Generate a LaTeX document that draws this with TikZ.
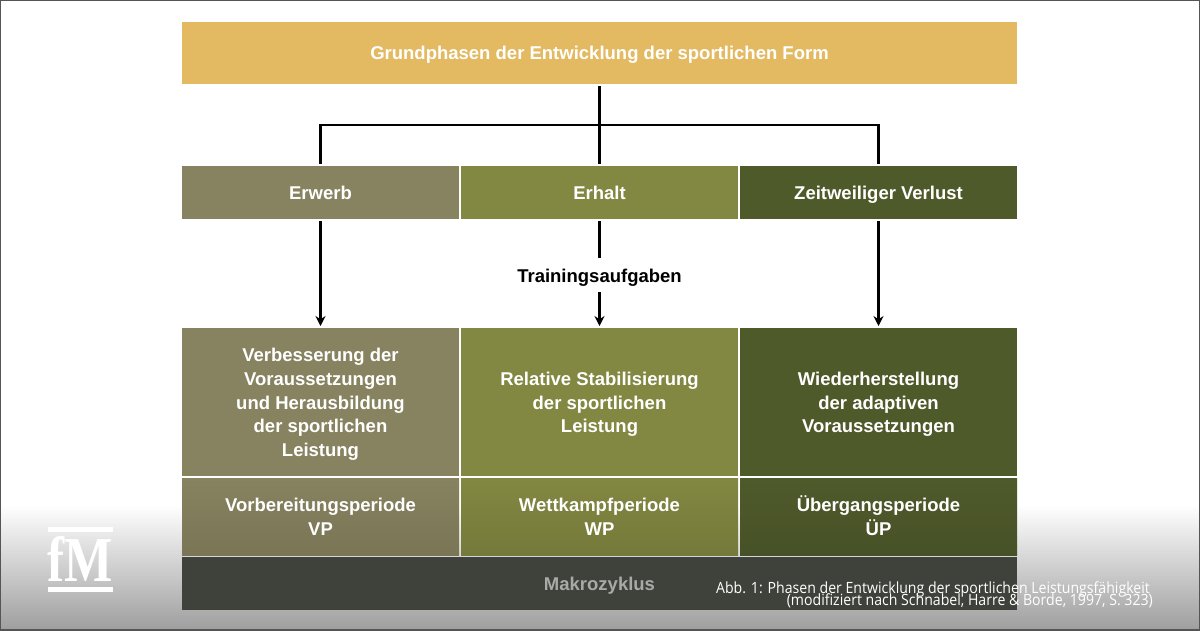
\documentclass[tikz,border=0pt]{standalone}
\usepackage{fontspec}
\setmainfont{Liberation Sans}
\newfontfamily\capfont[FakeStretch=0.91]{Open Sans}
\newfontfamily\logofont{Liberation Serif}
\usepackage{tikz}
\usetikzlibrary{arrows.meta}
\definecolor{headcol}{HTML}{E3B962}
\definecolor{erwcol}{HTML}{87825F}
\definecolor{ercol}{HTML}{828741}
\definecolor{vercol}{HTML}{4F5A2B}
\definecolor{makcol}{HTML}{3F423A}
\definecolor{bordcol}{HTML}{555555}
\setlength{\lineskiplimit}{-20pt}
\newcommand{\firstln}{\rule{0pt}{18pt}}
\newcommand{\lastln}{\rule[-4pt]{0pt}{4pt}}
\tikzset{
  box/.style={inner sep=0pt, outer sep=2pt, minimum width=277pt, text=white, align=center,
    font=\bfseries\fontsize{18.5}{23.7}\selectfont,
    execute at begin node={\rule{0pt}{17pt}},
    execute at end node={\rule[-3pt]{0pt}{3pt}}},
  conn/.style={draw=black, line width=2.3pt, xshift=-0.5pt},
  connarrow/.style={conn, -{Stealth[length=10pt,width=10pt]}},
}
\begin{document}
\begin{tikzpicture}[x=1pt,y=-1pt]
\useasboundingbox (0,0) rectangle (1200,630);
\fill[white] (0,0) rectangle (1200,630);
\shade[top color=white, bottom color=black!38] (0,505) rectangle (1200,630);

\node[box, minimum width=835pt, minimum height=62pt, fill=headcol] (head) at (599.5,53) {Grundphasen der Entwicklung der sportlichen Form};

\node[box, minimum height=53pt, fill=erwcol] (erwerb) at (320.5,192.5) {Erwerb};
\node[box, minimum height=53pt, fill=ercol] (erhalt) at (599.5,192.5) {Erhalt};
\node[box, minimum height=53pt, fill=vercol] (verlust) at (878.5,192.5) {Zeitweiliger Verlust};

\node[box, minimum height=148pt, fill=erwcol] (verb) at (320.5,402) {\firstln Verbesserung der\\Voraussetzungen\\und Herausbildung\\der sportlichen\\Leistung\lastln};
\node[box, minimum height=148pt, fill=ercol] (stab) at (599.5,402) {\firstln Relative Stabilisierung\\der sportlichen\\Leistung\lastln};
\node[box, minimum height=148pt, fill=vercol] (wieder) at (878.5,402) {\firstln Wiederherstellung\\der adaptiven\\Voraussetzungen\lastln};

\node[box, minimum height=77pt, top color=erwcol, bottom color=erwcol!90!black] (vp) at (320.5,516.5) {\firstln Vorbereitungsperiode\\VP\lastln};
\node[box, minimum height=77pt, top color=ercol, bottom color=ercol!90!black] (wp) at (599.5,516.5) {\firstln Wettkampfperiode\\WP\lastln};
\node[box, minimum height=77pt, top color=vercol, bottom color=vercol!90!black] (uep) at (878.5,516.5) {\firstln Übergangsperiode\\ÜP\lastln};

\node[box, minimum width=835pt, minimum height=53pt, fill=makcol, text=white!55!makcol] (makro) at (599.5,583.5) {Makrozyklus};

\node[font=\bfseries\fontsize{18.5}{22}\selectfont, inner sep=0pt, text height=24pt, text depth=10pt, anchor=base] (aufg) at (599.5,282) {Trainingsaufgaben};

\coordinate (bar) at (599.5,125);
\draw[conn] (head.south) -- (erhalt.north);
\draw[conn] (erwerb.north) |- (bar) -| (verlust.north);

\draw[connarrow] (erwerb.south) -- (verb.north);
\draw[conn] (erhalt.south) -- (aufg.north);
\draw[connarrow] (aufg.south) -- (stab.north);
\draw[connarrow] (verlust.south) -- (wieder.north);

% logo
\fill[white] (48,527) rectangle (113,532);
\fill[white] (48,587) rectangle (113,592);
\node[text=white, inner sep=0pt, font=\logofont\bfseries\fontsize{64}{64}\selectfont] (logo) at (80.5,559) {\scalebox{.8}[1]{fM}};

\node[text=white, inner sep=0pt, align=right, anchor=south east, font=\capfont\fontsize{15.5}{12}\selectfont] (caption) at (1153,608) {Abb. 1: Phasen der Entwicklung der sportlichen Leistungsfähigkeit\hspace*{3pt}\\(modifiziert nach Schnabel, Harre \& Borde, 1997, S. 323)};

\draw[bordcol, line width=1.5pt] (0,0) rectangle (1200,630);
\end{tikzpicture}
\end{document}
